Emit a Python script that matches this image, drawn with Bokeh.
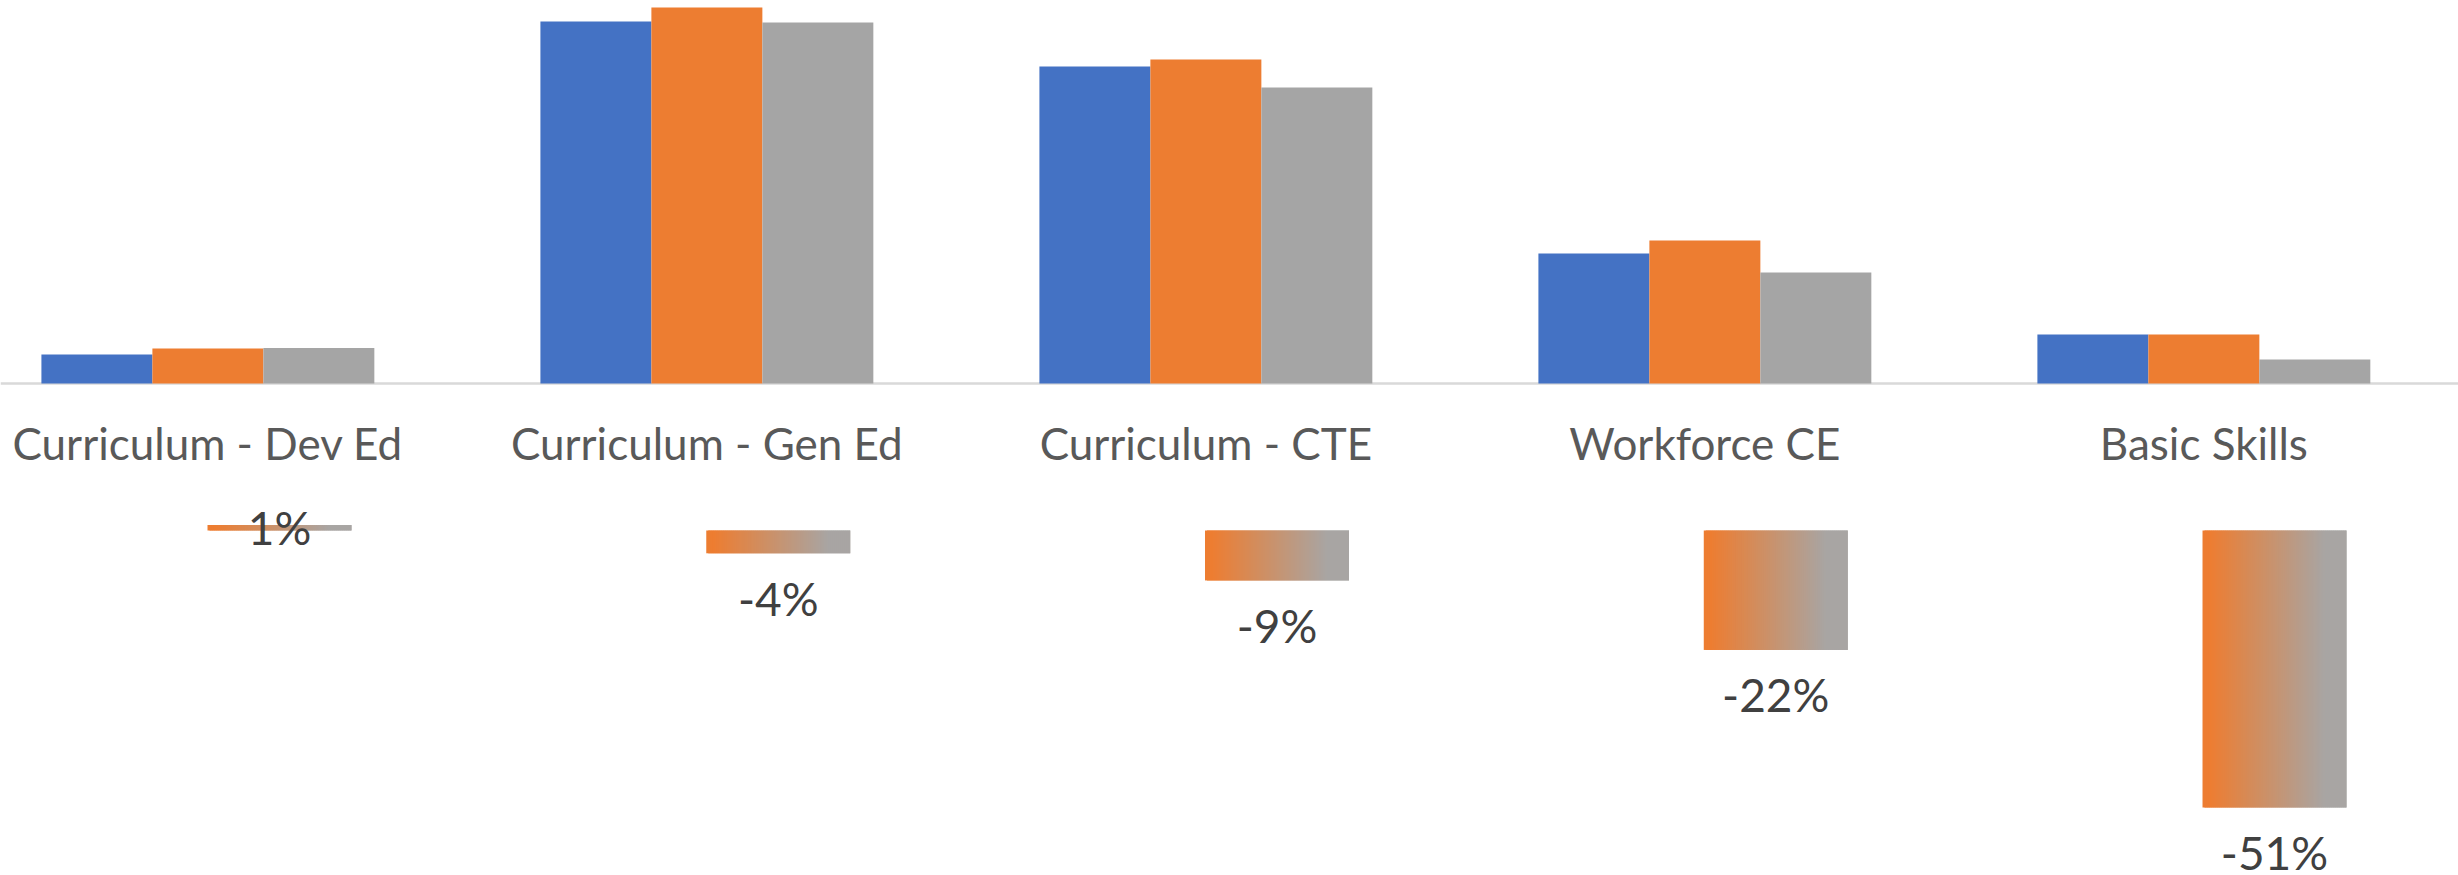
import numpy as np
from bokeh.plotting import figure
from bokeh.models import Range1d, Span, ColumnDataSource
from bokeh.core.properties import value
from bokeh.embed import file_html
from bokeh.resources import INLINE

# ---- data (units arbitrary, no axis shown) ----
categories = ["Curriculum - Dev Ed", "Curriculum - Gen Ed", "Curriculum - CTE",
              "Workforce CE", "Basic Skills"]
series_1 = [2.9, 36.2, 31.7, 13.0, 4.9]
series_2 = [3.5, 37.6, 32.4, 14.3, 4.9]
series_3 = [3.55, 36.1, 29.6, 11.1, 2.4]
pct_change = [1.0, -4.2, -9.2, -22.0, -51.0]
pct_labels = ["1%", "-4%", "-9%", "-22%", "-51%"]

# ---- styling ----
BLUE, ORANGE, GRAY = "#4472C4", "#ED7D31", "#A5A5A5"
FONT = "Lato"

W, H = 2458, 875
p = figure(width=W, height=H, output_backend="svg", toolbar_location=None,
           x_range=Range1d(-0.4156, 4.5103), y_range=Range1d(-49.2, 38.3),
           x_axis_location=None, y_axis_location=None, min_border=0,
           outline_line_color=None, background_fill_color="white",
           border_fill_color="white")
p.grid.visible = False
p.extra_x_ranges = {"pct_x": Range1d(-0.5594, 4.3689)}
p.extra_y_ranges = {"pct": Range1d(-63.54, 97.61)}

idx = np.arange(len(categories), dtype=float)

# axis line of the top chart
p.add_layout(Span(location=0, dimension="width", line_color="#D9D9D9",
                  line_width=2.5, level="underlay"))

# grouped bars
bw = 0.2224
for j, (vals, col) in enumerate(zip([series_1, series_2, series_3],
                                    [BLUE, ORANGE, GRAY])):
    p.vbar(x=idx + (j - 1) * bw, top=vals, bottom=0, width=bw,
           fill_color=col, line_color=None)

# category labels
p.text(x=idx, y=np.zeros(len(idx)), text=categories, y_offset=59,
       text_align="center", text_baseline="alphabetic",
       text_font=value(FONT), text_font_size="44px", text_color="#595959")

# gradient bars (percent change), drawn as thin overlapping strips
def lerp(c1, c2, t):
    a = [int(c1[k:k + 2], 16) for k in (1, 3, 5)]
    b = [int(c2[k:k + 2], 16) for k in (1, 3, 5)]
    return "#%02x%02x%02x" % tuple(round(a[m] + (b[m] - a[m]) * t) for m in range(3))

pw = 0.2887
N = 72
lefts, rights, tops, bottoms, cols = [], [], [], [], []
for i, v in enumerate(pct_change):
    for k in range(N):
        f0, f1 = k / N, min((k + 2) / N, 1.0)
        t = min(max(((k + 0.5) / N - 0.05) / 0.80, 0.0), 1.0)
        lefts.append(idx[i] - pw / 2 + f0 * pw)
        rights.append(idx[i] - pw / 2 + f1 * pw)
        tops.append(max(v, 0.0))
        bottoms.append(min(v, 0.0))
        cols.append(lerp(ORANGE, "#A8A5A3", t))
p.quad(left=lefts, right=rights, top=tops, bottom=bottoms, fill_color=cols,
       line_color=None, x_range_name="pct_x", y_range_name="pct")

# percent labels
anchors = [min(v, 0.0) for v in pct_change]
offsets = [45 if v < 0 else -3 for v in pct_change]
src = ColumnDataSource(dict(x=idx, y=anchors, t=pct_labels, off=offsets))
p.text(x="x", y="y", text="t", y_offset="off", source=src,
       x_range_name="pct_x", y_range_name="pct", text_align="center",
       text_baseline="alphabetic", text_font=value(FONT),
       text_font_size="46px", text_color="#404040")

open("out.html", "w").write(file_html(p, INLINE))
